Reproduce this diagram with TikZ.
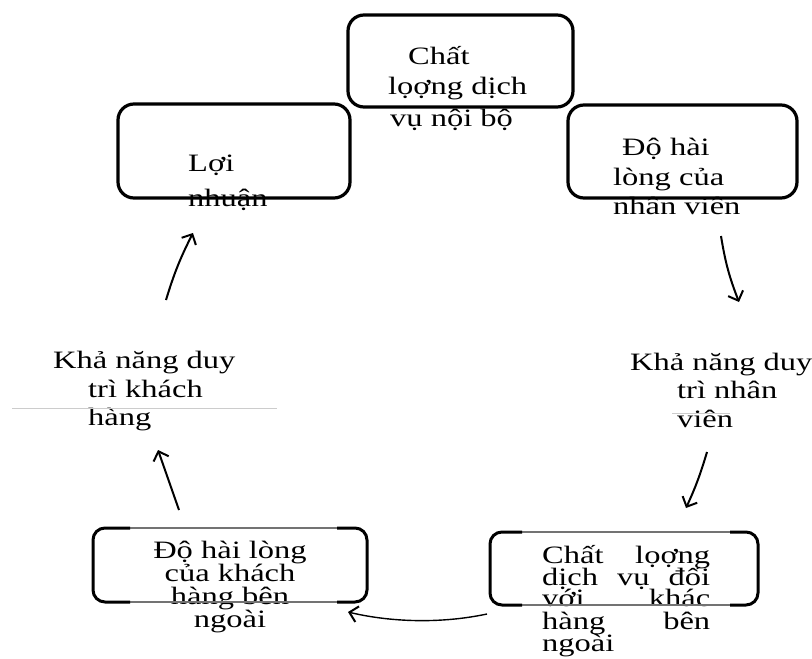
\documentclass[tikz,border=0pt]{standalone}
\usepackage{fontspec}
\setmainfont[FakeStretch=1.3]{Liberation Serif}
\usetikzlibrary{arrows.meta}
\begin{document}
\begin{tikzpicture}[x=1pt,y=-1pt,
  txt/.style={anchor=base west, inner sep=0pt, font=\fontsize{25}{30}\selectfont, text=black},
  ctxt/.style={anchor=base, inner sep=0pt, font=\fontsize{25}{30}\selectfont, text=black},
  boxline/.style={line width=3.2pt, rounded corners=16pt, black},
  bracket/.style={line width=3pt, rounded corners=12pt, black},
  thinedge/.style={line width=1.1pt, black!55},
  faint/.style={line width=0.8pt, black!20},
  arr/.style={line width=2pt, -{Straight Barb[length=8pt,width=16pt,line width=2pt]}, black}]
\useasboundingbox (0,0) rectangle (812,659);
\fill[white] (0,0) rectangle (812,659);

% texts
\node[txt] (t1a) at (408,64) {Chất};
\node[txt] (t1b) at (388,94) {lọợng dịch};
\node[txt] (t1c) at (390,126) {vụ nội bộ};

\node[txt] (t2a) at (188,171) {Lợi};
\node[txt] (t2b) at (188,206) {nhuận};

\node[txt] (t3a) at (622,155) {Độ hài};
\node[txt] (t3b) at (613,185) {lòng của};
\node[txt] (t3c) at (613,214) {nhân viên};

\node[txt] (t4a) at (53,368) {Khả năng duy};
\node[txt] (t4b) at (88,397) {trì khách};
\node[txt] (t4c) at (88,425) {hàng};

\node[txt] (t5a) at (630,370) {Khả năng duy};
\node[txt] (t5b) at (677,398) {trì nhân};
\node[txt] (t5c) at (677,427) {viên};

\node[ctxt] (t6a) at (230,558) {Độ hài lòng};
\node[ctxt] (t6b) at (230,581) {của khách};
\node[ctxt] (t6c) at (230,604) {hàng bên};
\node[ctxt] (t6d) at (230,627) {ngoài};

\node[txt] (t7a) at (542,563) {\makebox[168pt][s]{Chất\hfill lọợng}};
\node[txt] (t7b) at (542,585) {\makebox[168pt][s]{dịch\hfill vụ\hfill đối}};
\node[txt] (t7c) at (542,606) {\makebox[168pt][s]{với\hfill khác}};
\node[txt] (t7d) at (542,629) {\makebox[168pt][s]{hàng\hfill bên}};
\node[txt] (t7e) at (542,651) {ngoài};

% faint lines
\draw[faint] (12,408) -- (277,408);
\draw[faint] (672,413) -- (730,413);

% top boxes
\draw[boxline] (348,15) rectangle (573,107);
\draw[boxline] (118,104) rectangle (350,198);
\draw[boxline] (568,105) rectangle (797,198);

% bottom-left bracket box
\draw[thinedge] (125,528) -- (340,528);
\draw[thinedge] (125,602) -- (340,602);
\draw[bracket] (130,528) -- (93,528) -- (93,602) -- (130,602);
\draw[bracket] (337,528) -- (367,528) -- (367,602) -- (337,602);

% bottom-right bracket box
\draw[thinedge] (518,532) -- (734,532);
\draw[thinedge] (518,605) -- (734,605);
\draw[bracket] (522,532) -- (490,532) -- (490,605) -- (522,605);
\draw[bracket] (730,532) -- (758,532) -- (758,605) -- (730,605);

% arrows
\coordinate (a1s) at (721,236); \coordinate (a1e) at (739,302);
\coordinate (a2s) at (707,452); \coordinate (a2e) at (686,508);
\coordinate (a3s) at (487,614); \coordinate (a3e) at (348,612);
\coordinate (a4s) at (179,510); \coordinate (a4e) at (158,450);
\coordinate (a5s) at (166,300); \coordinate (a5e) at (193,233);

\draw[arr] (a1s) to[bend right=6] (a1e);
\draw[arr] (a2s) to[bend left=4] (a2e);
\draw[arr, line width=1.4pt] (a3s) .. controls (440,624) and (390,622) .. (a3e);
\draw[arr] (a4s) -- (a4e);
\draw[arr] (a5s) to[bend left=5] (a5e);
\end{tikzpicture}
\end{document}
